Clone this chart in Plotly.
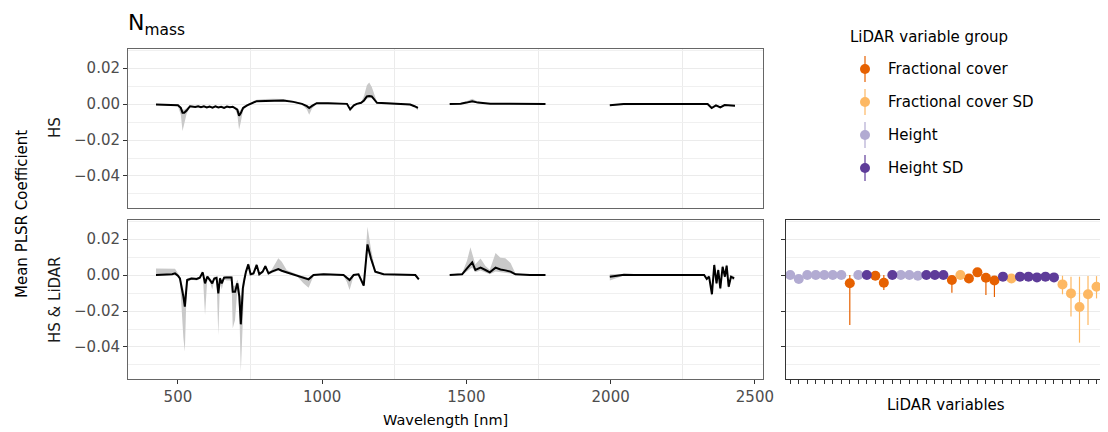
import plotly.graph_objects as go

W, H = 1108, 432
OFF = 8  # page body margin in the browser

# --- spectral PLSR coefficients, HS only model ---
hs_wl = [424, 460, 500, 510, 516, 522, 530, 542, 560, 570, 580, 590, 600, 610, 620, 630, 640, 650, 660, 670,
         680, 690, 698, 706, 712, 718, 726, 740, 773, 800, 830, 865, 900, 930, 947, 955, 965, 981, 1020, 1060,
         1086, 1097, 1110, 1120, 1135, 1145, 1155, 1163, 1172, 1190, 1230, 1270, 1305, 1320, 1332,
         1442, 1480, 1500, 1520, 1540, 1560, 1583, 1650, 1720, 1774,
         1997, 2020, 2045, 2100, 2150, 2200, 2250, 2300, 2336, 2350, 2365, 2380, 2395, 2431]
hs_mean = [-0.0003, -0.0005, -0.0007, -0.0021, -0.0048, -0.0048, -0.0036, -0.0012, -0.0016, -0.0012,
           -0.0018, -0.0013, -0.0019, -0.0014, -0.0020, -0.0013, -0.0019, -0.0015, -0.0021, -0.0014,
           -0.0018, -0.0015, -0.0022, -0.0031, -0.0065, -0.0050, -0.0021, -0.0007, 0.0016, 0.0018,
           0.0020, 0.0020, 0.0012, 0.0001, -0.0012, -0.0022, -0.0010, 0.0005, 0.0005, 0.0003,
           0.0001, -0.0030, -0.0007, 0.0001, 0.0007, 0.0020, 0.0042, 0.0044, 0.0042, 0.0007,
           0.0003, 0.0001, -0.0003, -0.0012, -0.0021,
           0.0000, 0.0002, 0.0008, 0.0016, 0.0008, 0.0003, 0.0001, 0.0001, 0.0001, 0.0000,
           -0.0007, -0.0004, 0.0000, 0.0000, 0.0000, 0.0000, 0.0000, 0.0000, 0.0000, -0.0022,
           -0.0007, -0.0019, -0.0006, -0.0009]
hs_lo = [-0.0006, -0.0008, -0.0012, -0.0060, -0.0150, -0.0110, -0.0055, -0.0016, -0.0020, -0.0016,
         -0.0022, -0.0017, -0.0023, -0.0018, -0.0024, -0.0017, -0.0023, -0.0019, -0.0025, -0.0018,
         -0.0022, -0.0019, -0.0028, -0.0060, -0.0143, -0.0100, -0.0035, -0.0010, 0.0012, 0.0014,
         0.0015, 0.0015, 0.0008, -0.0003, -0.0030, -0.0060, -0.0025, 0.0001, 0.0002, 0.0000,
         -0.0003, -0.0042, -0.0011, -0.0002, 0.0003, 0.0014, 0.0030, 0.0034, 0.0032, 0.0003,
         0.0000, -0.0002, -0.0007, -0.0018, -0.0035,
         -0.0003, -0.0001, 0.0003, 0.0008, 0.0004, 0.0000, -0.0002, -0.0002, -0.0002, -0.0003,
         -0.0010, -0.0007, -0.0003, -0.0003, -0.0003, -0.0003, -0.0003, -0.0003, -0.0003, -0.0027,
         -0.0011, -0.0024, -0.0010, -0.0013]
hs_hi = [0.0000, -0.0002, -0.0003, -0.0012, -0.0030, -0.0032, -0.0024, -0.0008, -0.0012, -0.0008,
         -0.0014, -0.0009, -0.0015, -0.0010, -0.0016, -0.0009, -0.0015, -0.0011, -0.0017, -0.0010,
         -0.0014, -0.0011, -0.0016, -0.0022, -0.0040, -0.0032, -0.0012, 0.0000, 0.0024, 0.0028,
         0.0030, 0.0028, 0.0018, 0.0005, -0.0008, -0.0014, -0.0006, 0.0009, 0.0008, 0.0006,
         0.0004, -0.0020, -0.0003, 0.0004, 0.0012, 0.0045, 0.0105, 0.0120, 0.0095, 0.0012,
         0.0006, 0.0004, 0.0001, -0.0008, -0.0015,
         0.0003, 0.0005, 0.0016, 0.0030, 0.0014, 0.0007, 0.0004, 0.0004, 0.0004, 0.0003,
         -0.0004, -0.0001, 0.0003, 0.0003, 0.0003, 0.0003, 0.0003, 0.0003, 0.0003, -0.0017,
         -0.0003, -0.0014, -0.0002, -0.0005]

# --- spectral PLSR coefficients, HS & LiDAR model ---
hsl_wl = [424, 440, 460, 480, 490, 500, 507, 513, 519, 524, 528, 532, 547, 565, 576, 586, 594, 602, 611, 619,
          626, 634, 640, 646, 652, 660, 669, 680, 686, 690, 698, 706, 713, 718, 725, 730, 736, 744, 752, 762,
          773, 782, 794, 803, 814, 825, 843, 848, 860, 877, 912, 935, 953, 970, 1005, 1074, 1086, 1095, 1109, 1126,
          1144, 1157, 1169, 1184, 1213, 1271, 1323, 1335,
          1442, 1485, 1502, 1514, 1520, 1531, 1549, 1566, 1581, 1601, 1618, 1635, 1653, 1670, 1720, 1774,
          1997, 2046, 2081, 2130, 2180, 2230, 2280, 2324, 2333, 2341, 2351, 2359, 2367, 2373, 2380, 2388,
          2396, 2402, 2409, 2417, 2428]
hsl_mean = [0.0000, 0.0000, 0.0002, 0.0004, 0.0009, -0.0004, -0.0019, -0.0065, -0.0120, -0.0176,
            -0.0093, -0.0028, -0.0019, -0.0022, -0.0015, 0.0015, -0.0046, -0.0009, -0.0028, -0.0046,
            -0.0019, -0.0015, -0.0102, -0.0019, -0.0046, -0.0015, -0.0013, -0.0013, -0.0013, -0.0093,
            -0.0093, -0.0046, -0.0120, -0.0274, -0.0074, -0.0028, 0.0019, 0.0059, 0.0004, 0.0009,
            0.0056, 0.0004, 0.0019, 0.0050, 0.0009, 0.0019, 0.0031, 0.0033, 0.0024, 0.0015,
            0.0000, -0.0015, -0.0024, 0.0000, 0.0004, 0.0000, -0.0019, -0.0028, 0.0000, 0.0004,
            -0.0059, 0.0170, 0.0093, 0.0019, 0.0004, 0.0000, 0.0000, -0.0024,
            0.0000, 0.0004, 0.0037, 0.0059, 0.0070, 0.0028, 0.0041, 0.0028, 0.0015, 0.0041,
            0.0031, 0.0026, 0.0019, 0.0004, 0.0000, 0.0000,
            -0.0009, 0.0002, 0.0000, 0.0000, 0.0000, 0.0000, 0.0000, 0.0000, -0.0022, -0.0009,
            -0.0107, 0.0056, -0.0046, 0.0028, -0.0074, 0.0046, -0.0009, 0.0052, -0.0065, -0.0009, -0.0019]
hsl_lo = [-0.0004, -0.0004, -0.0002, 0.0000, 0.0002, -0.0008, -0.0030, -0.0150, -0.0350, -0.0426,
          -0.0200, -0.0040, -0.0026, -0.0030, -0.0022, 0.0008, -0.0222, -0.0018, -0.0040, -0.0080,
          -0.0030, -0.0025, -0.0333, -0.0030, -0.0080, -0.0025, -0.0030, -0.0030, -0.0035, -0.0296,
          -0.0250, -0.0080, -0.0200, -0.0537, -0.0280, -0.0060, 0.0005, 0.0040, -0.0005, 0.0000,
          0.0045, -0.0004, 0.0010, 0.0040, 0.0002, 0.0010, 0.0022, 0.0025, 0.0016, 0.0008,
          -0.0005, -0.0045, -0.0070, -0.0006, 0.0000, -0.0004, -0.0040, -0.0083, -0.0006, 0.0000,
          -0.0065, 0.0140, 0.0075, 0.0012, 0.0000, -0.0004, -0.0004, -0.0030,
          -0.0003, 0.0000, 0.0020, 0.0035, 0.0040, 0.0015, 0.0025, 0.0015, 0.0005, 0.0020,
          0.0015, 0.0012, 0.0008, 0.0000, -0.0003, -0.0003,
          -0.0030, -0.0002, -0.0003, -0.0003, -0.0003, -0.0003, -0.0003, -0.0003, -0.0030, -0.0016,
          -0.0120, 0.0040, -0.0058, 0.0016, -0.0088, 0.0034, -0.0020, 0.0040, -0.0078, -0.0020, -0.0030]
hsl_hi = [0.0037, 0.0037, 0.0037, 0.0037, 0.0035, 0.0010, -0.0010, -0.0040, -0.0080, -0.0110,
          -0.0060, -0.0018, -0.0012, -0.0015, -0.0008, 0.0020, -0.0030, -0.0002, -0.0018, -0.0030,
          -0.0010, -0.0008, -0.0060, -0.0010, -0.0030, -0.0005, -0.0005, -0.0005, -0.0005, -0.0060,
          -0.0060, -0.0025, -0.0060, -0.0150, -0.0030, 0.0000, 0.0030, 0.0068, 0.0012, 0.0016,
          0.0064, 0.0012, 0.0026, 0.0058, 0.0016, 0.0030, 0.0080, 0.0093, 0.0074, 0.0028,
          0.0005, -0.0008, -0.0015, 0.0004, 0.0008, 0.0004, -0.0012, -0.0018, 0.0004, 0.0008,
          -0.0040, 0.0269, 0.0148, 0.0025, 0.0008, 0.0004, 0.0004, -0.0018,
          0.0003, 0.0010, 0.0080, 0.0155, 0.0120, 0.0060, 0.0092, 0.0050, 0.0030, 0.0122,
          0.0096, 0.0093, 0.0067, 0.0008, 0.0003, 0.0003,
          0.0004, 0.0006, 0.0003, 0.0003, 0.0003, 0.0003, 0.0003, 0.0003, -0.0012, 0.0000,
          -0.0090, 0.0068, -0.0032, 0.0040, -0.0060, 0.0058, 0.0002, 0.0064, -0.0052, 0.0002, -0.0008]

# --- LiDAR variable coefficients (HS & LiDAR model) ---
lidar_group = ["H", "H", "H", "H", "H", "H", "H", "FC", "H", "HSD",
               "FC", "FC", "HSD", "H", "H", "H", "HSD", "HSD", "HSD", "FC",
               "FCSD", "FC", "FC", "FC", "FC", "HSD", "FCSD", "HSD", "HSD", "HSD",
               "HSD", "HSD", "FCSD", "FCSD", "FCSD", "FCSD", "FCSD", "FCSD"]
lidar_mean = [0.0000, -0.0022, 0.0000, 0.0000, 0.0000, 0.0000, 0.0000, -0.0046, 0.0000, 0.0000,
              -0.0004, -0.0043, 0.0000, 0.0000, 0.0000, -0.0004, 0.0000, 0.0000, 0.0000, -0.0028,
              0.0000, -0.0019, 0.0015, -0.0015, -0.0030, -0.0009, -0.0019, -0.0009, -0.0009, -0.0013,
              -0.0009, -0.0013, -0.0052, -0.0102, -0.0178, -0.0107, -0.0065, -0.0294]
lidar_lo = [-0.0002, -0.0024, -0.0002, -0.0002, -0.0002, -0.0002, -0.0002, -0.0278, -0.0002, -0.0002,
            -0.0006, -0.0083, -0.0002, -0.0002, -0.0002, -0.0006, -0.0002, -0.0002, -0.0002, -0.0098,
            -0.0002, -0.0021, 0.0013, -0.0111, -0.0122, -0.0011, -0.0021, -0.0011, -0.0011, -0.0015,
            -0.0011, -0.0030, -0.0107, -0.0231, -0.0376, -0.0278, -0.0130, -0.0500]
lidar_hi = [0.0002, -0.0020, 0.0002, 0.0002, 0.0002, 0.0002, 0.0002, 0.0000, 0.0002, 0.0002,
            -0.0002, 0.0000, 0.0002, 0.0002, 0.0002, -0.0002, 0.0002, 0.0002, 0.0002, -0.0028,
            0.0002, -0.0017, 0.0017, 0.0000, -0.0010, -0.0007, -0.0017, -0.0007, -0.0007, -0.0011,
            -0.0007, 0.0000, -0.0004, -0.0009, -0.0009, -0.0006, -0.0006, -0.0015]

group_names = {"FC": "Fractional cover", "FCSD": "Fractional cover SD", "H": "Height", "HSD": "Height SD"}
group_colors = {"FC": "#E66101", "FCSD": "#FDB863", "H": "#B2ABD2", "HSD": "#5E3C99"}

y_ticks = [0.02, 0.0, -0.02, -0.04]
y_tick_text = ["0.02", "0.00", "\u22120.02", "\u22120.04"]
x_ticks = [500, 1000, 1500, 2000, 2500]

FW, FH = W - OFF, H - OFF


def px(x):
    return (x - OFF) / FW


def py(y):
    return 1 - (y - OFF) / FH


def segments(wl):
    start = 0
    for i in range(1, len(wl)):
        if wl[i] - wl[i - 1] > 100:
            yield start, i
            start = i
    yield start, len(wl)


fig = go.Figure()

for xa, ya, wl, mean, lo, hi in [("x", "y", hs_wl, hs_mean, hs_lo, hs_hi),
                                 ("x2", "y2", hsl_wl, hsl_mean, hsl_lo, hsl_hi)]:
    for a, b in segments(wl):
        xs = wl[a:b]
        fig.add_trace(go.Scatter(
            x=xs + xs[::-1], y=hi[a:b] + lo[a:b][::-1], xaxis=xa, yaxis=ya,
            fill="toself", fillcolor="#C9C9C9", line=dict(width=0), mode="lines",
            hoverinfo="skip", showlegend=False))
        fig.add_trace(go.Scatter(
            x=xs, y=mean[a:b], xaxis=xa, yaxis=ya, mode="lines",
            line=dict(color="black", width=2), showlegend=False))

# LiDAR variable points with error bars
idx = list(range(1, len(lidar_mean) + 1))
for g in ["FC", "FCSD", "H", "HSD"]:
    sel = [i for i, gg in enumerate(lidar_group) if gg == g]
    fig.add_trace(go.Scatter(
        x=[idx[i] for i in sel], y=[lidar_mean[i] for i in sel], xaxis="x3", yaxis="y3",
        mode="markers", marker=dict(size=10, color=group_colors[g]),
        error_y=dict(type="data", symmetric=False,
                     array=[lidar_hi[i] - lidar_mean[i] for i in sel],
                     arrayminus=[lidar_mean[i] - lidar_lo[i] for i in sel],
                     color=group_colors[g], thickness=1.2, width=0),
        name=group_names[g], showlegend=False))

yrange = [-0.0578, 0.0306]
grid = "#EBEBEB"
common_y = dict(range=yrange, tickvals=y_ticks, ticktext=y_tick_text, showgrid=True,
                gridcolor=grid, gridwidth=1.1, zeroline=False, ticks="outside", ticklen=4,
                tickcolor="#333333", automargin=False,
                minor=dict(tickvals=[0.03, 0.01, -0.01, -0.03, -0.05], showgrid=True,
                           gridcolor="#F0F0F0", gridwidth=0.8, ticks=""),
                showline=True, linewidth=1)
common_x = dict(range=[327, 2528], tickvals=x_ticks, showgrid=False, zeroline=False,
                automargin=False,
                minor=dict(tickvals=[750, 1250, 1750, 2250], showgrid=True,
                           gridcolor=grid, gridwidth=1.1, ticks=""),
                showline=True, linewidth=1, linecolor="#666666", mirror=True)
tick_font = dict(size=15, color="#4D4D4D")

fig.update_layout(
    template="none",
    width=FW, height=FH,
    margin=dict(l=0, r=0, t=0, b=0, pad=0, autoexpand=False),
    paper_bgcolor="white", plot_bgcolor="white",
    showlegend=False,
    font=dict(family="DejaVu Sans", color="black"),
    xaxis=dict(domain=[px(128), px(763)], anchor="y", showticklabels=False, ticks="", **common_x),
    yaxis=dict(domain=[py(208), py(49)], anchor="x", linecolor="#666666", mirror=True,
               tickfont=tick_font, **common_y),
    xaxis2=dict(domain=[px(128), px(763)], anchor="y2", ticks="outside", ticklen=4,
                tickcolor="#333333", tickfont=tick_font, **common_x),
    yaxis2=dict(domain=[py(379), py(220)], anchor="x2", linecolor="#666666", mirror=True,
                tickfont=tick_font, **common_y),
    xaxis3=dict(domain=[px(786), 1.0], anchor="y3", range=[0.5, 38.35], tickvals=idx,
                showticklabels=False, ticks="outside", ticklen=4, tickcolor="#333333",
                showgrid=False, zeroline=False, showline=True, linecolor="#333333",
                linewidth=1, mirror=True, automargin=False),
    yaxis3=dict(domain=[py(379), py(220)], anchor="x3", showticklabels=False, linecolor="#333333",
                mirror=False, **common_y),
)

ann = [
    dict(text="N<sub>mass</sub>", x=px(126), y=1.0, xanchor="left", yanchor="top",
         font=dict(size=22)),
    dict(text="Mean PLSR Coefficient", x=px(22), y=py(214), textangle=-90, font=dict(size=15)),
    dict(text="HS", x=px(55), y=py(128), textangle=-90, font=dict(size=15, color="#1A1A1A")),
    dict(text="HS &amp; LiDAR", x=px(55), y=py(300), textangle=-90, font=dict(size=15, color="#1A1A1A")),
    dict(text="Wavelength [nm]", x=px(445), y=py(420), font=dict(size=14.5)),
    dict(text="LiDAR variables", x=px(946), y=py(405), font=dict(size=15)),
    dict(text="LiDAR variable group", x=px(848), y=py(37), xanchor="left", font=dict(size=15)),
]
for i, g in enumerate(["FC", "FCSD", "H", "HSD"]):
    cy = 69 + 33 * i
    ann.append(dict(text=group_names[g], x=px(886), y=py(cy), xanchor="left", font=dict(size=15)))
    fig.add_shape(type="line", xref="paper", yref="paper", x0=px(865), x1=px(865),
                  y0=py(cy - 13), y1=py(cy + 13), line=dict(color=group_colors[g], width=1.2))
    fig.add_shape(type="circle", xref="paper", yref="paper", x0=px(860), x1=px(870),
                  y0=py(cy + 5), y1=py(cy - 5), fillcolor=group_colors[g], line=dict(width=0))
for a in ann:
    a.setdefault("xanchor", "center")
    a.setdefault("yanchor", "middle")
    a.update(xref="paper", yref="paper", showarrow=False)
    fig.add_annotation(**a)

fig.write_html("out.html")
